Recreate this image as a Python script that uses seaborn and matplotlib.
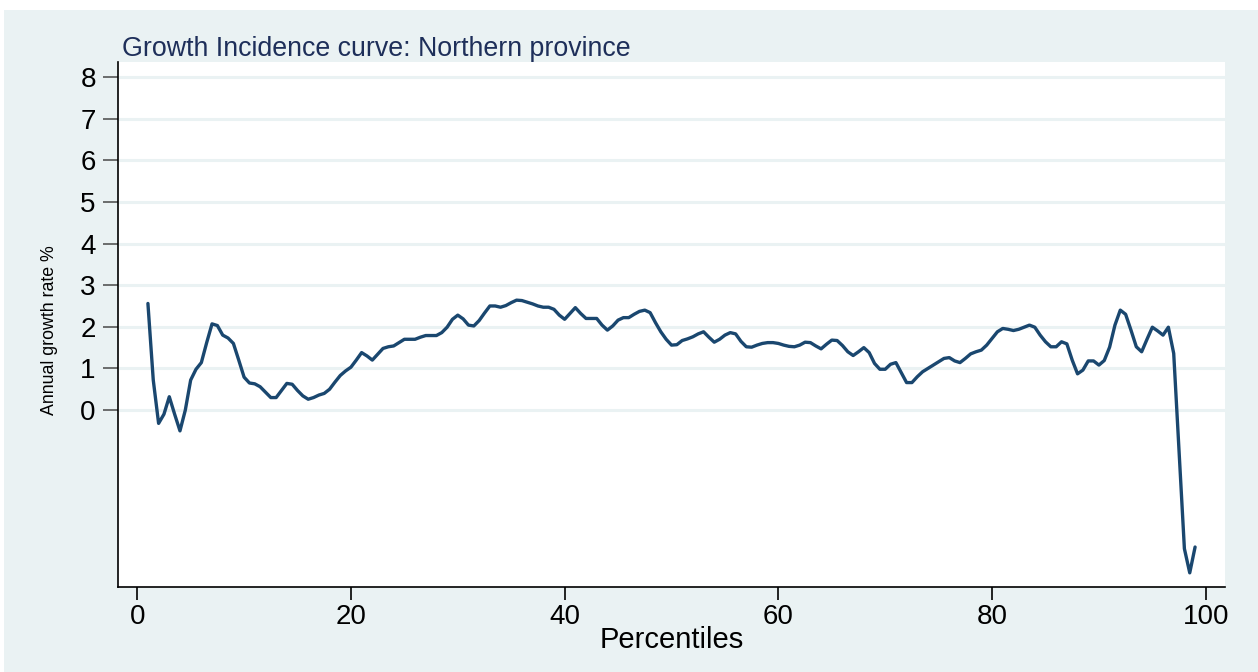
import numpy as np
import pandas as pd
import matplotlib
matplotlib.use("Agg")
import matplotlib.pyplot as plt
import seaborn as sns
from matplotlib.patches import Rectangle

# ------------------------------------------------------------
# Data (half-percentile steps)
# ------------------------------------------------------------
percentiles = np.arange(1.0, 99.5, 0.5)
growth_rate = [
    2.56, 0.72, -0.32, -0.10, 0.32, -0.10, -0.50, 0.00, 0.72, 0.98,
    1.14, 1.62, 2.07, 2.03, 1.80, 1.73, 1.60, 1.20, 0.79, 0.65,
    0.63, 0.56, 0.43, 0.30, 0.30, 0.47, 0.64, 0.62, 0.47, 0.34,
    0.26, 0.30, 0.36, 0.40, 0.50, 0.67, 0.83, 0.94, 1.03, 1.20,
    1.38, 1.30, 1.20, 1.34, 1.48, 1.52, 1.54, 1.62, 1.70, 1.70,
    1.70, 1.75, 1.79, 1.79, 1.79, 1.86, 1.99, 2.18, 2.28, 2.19,
    2.04, 2.02, 2.15, 2.33, 2.50, 2.50, 2.47, 2.51, 2.58, 2.64,
    2.63, 2.59, 2.55, 2.50, 2.47, 2.47, 2.42, 2.28, 2.18, 2.32,
    2.46, 2.32, 2.20, 2.20, 2.20, 2.04, 1.92, 2.02, 2.16, 2.22,
    2.22, 2.30, 2.37, 2.40, 2.34, 2.10, 1.88, 1.70, 1.56, 1.57,
    1.67, 1.71, 1.76, 1.83, 1.88, 1.75, 1.63, 1.70, 1.80, 1.86,
    1.83, 1.65, 1.52, 1.51, 1.56, 1.60, 1.62, 1.62, 1.60, 1.56,
    1.53, 1.52, 1.56, 1.63, 1.62, 1.54, 1.47, 1.58, 1.68, 1.67,
    1.55, 1.40, 1.31, 1.40, 1.50, 1.38, 1.12, 0.98, 0.98, 1.10,
    1.14, 0.90, 0.66, 0.66, 0.80, 0.92, 1.00, 1.08, 1.16, 1.24,
    1.26, 1.18, 1.14, 1.24, 1.35, 1.40, 1.44, 1.56, 1.72, 1.88,
    1.96, 1.94, 1.91, 1.94, 1.99, 2.04, 1.99, 1.80, 1.64, 1.52,
    1.52, 1.64, 1.59, 1.20, 0.87, 0.96, 1.18, 1.18, 1.08, 1.19,
    1.51, 2.04, 2.40, 2.30, 1.92, 1.52, 1.40, 1.70, 1.99, 1.90,
    1.80, 1.99, 1.36, -1.00, -3.33, -3.91, -3.29,
]
df = pd.DataFrame({"Percentiles": percentiles, "Growth": growth_rate})

x_ticks = [0, 20, 40, 60, 80, 100]
y_ticks = [0, 1, 2, 3, 4, 5, 6, 7, 8]

# ------------------------------------------------------------
# Styling (Stata s2color look)
# ------------------------------------------------------------
sns.set_theme(style="white")
plt.rcParams['font.family'] = ['Liberation Sans', 'DejaVu Sans']

BG = '#EAF2F3'
LINE = '#1A476F'

fig = plt.figure(figsize=(12.58, 6.72), dpi=100, facecolor='white')
# light outer panel (small white margin on top and left)
fig.patches.append(Rectangle((4 / 1258, 0), 1, 1 - 10 / 672,
                             transform=fig.transFigure, facecolor=BG,
                             edgecolor='none', zorder=-10))

ax = fig.add_axes([118 / 1258, 1 - 587 / 672, (1225 - 118) / 1258, (587 - 62) / 672])
ax.set_facecolor('white')

sns.lineplot(data=df, x="Percentiles", y="Growth", ax=ax, color=LINE,
             linewidth=2.4, zorder=3)

ax.set_xlim(-1.8, 101.8)
ax.set_ylim(-4.25, 8.36)
ax.set_xticks(x_ticks)
ax.set_yticks(y_ticks)
ax.set_xticklabels([str(v) for v in x_ticks], fontsize=20)
ax.set_yticklabels([str(v) for v in y_ticks], fontsize=20, rotation=0)

for y in y_ticks:
    ax.axhline(y, color=BG, linewidth=2.2, zorder=1)

for side in ['top', 'right']:
    ax.spines[side].set_visible(False)
for side in ['left', 'bottom']:
    ax.spines[side].set_color('black')
    ax.spines[side].set_linewidth(1.2)

ax.tick_params(axis='y', direction='out', length=11, width=1.2, color='#555555',
               pad=5, left=True, labelcolor='black')
ax.tick_params(axis='x', direction='out', length=9, width=1.2, color='black',
               pad=3, bottom=True, labelcolor='black')

ax.set_xlabel("Percentiles", fontsize=21, color='black', labelpad=-3)
ax.set_ylabel("Annual growth rate %", fontsize=12.8, color='black')
ax.yaxis.set_label_coords(-0.054, 0.49)

ax.set_title("Growth Incidence curve: Northern province", loc='left',
             fontsize=19.3, color='#1E2F5A', pad=4, x=0.004)

plt.savefig('out.png', dpi=100, facecolor='white')
plt.close()
